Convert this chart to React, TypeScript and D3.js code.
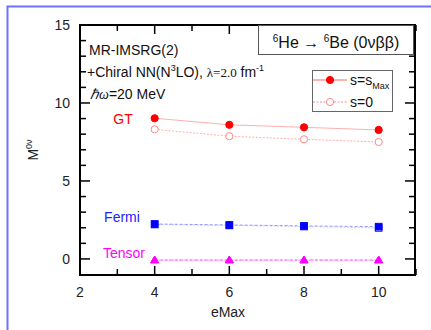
import React from "react";
import * as d3 from "d3";

const eMax = [4, 6, 8, 10];
const gtSMax = [9.02, 8.6, 8.44, 8.27];
const gtS0 = [8.31, 7.87, 7.67, 7.5];
const fermiSMax = [2.24, 2.18, 2.12, 2.07];
const fermiS0 = [2.21, 2.15, 2.08, 1.99];
const tensorSMax = [-0.07, -0.07, -0.07, -0.07];
const tensorS0 = [-0.08, -0.08, -0.08, -0.08];
const xTicks = [2, 4, 6, 8, 10];
const yTicks = [0, 5, 10, 15];

const W = 431, H = 330;
const L = 80, R = 415, T = 25, B = 275;

export default function App() {
  const x = d3.scaleLinear().domain([2, 11]).range([L, R + 1]);
  const y = d3.scaleLinear().domain([-1.03, 15]).range([B, T]);
  const line = d3.line<number>().x((_, i) => x(eMax[i])).y((v) => y(v));
  const font = "Liberation Sans, Arial, sans-serif";
  const minorX = d3.range(2, 12, 1);
  const minorY = d3.range(0, 16, 1);

  const series = [
    { vals: gtSMax, color: "#ff0000", lc: "#ffb0b0", dash: undefined, open: false, shape: "circle" },
    { vals: gtS0, color: "#ff8888", lc: "#ffb0b0", dash: "2,1.5", open: true, shape: "circle" },
    { vals: fermiS0, color: "#0000ff", lc: "#c8c8ff", dash: "2,1.5", open: true, shape: "square" },
    { vals: fermiSMax, color: "#0000ff", lc: "#9999ff", dash: "3,2", open: false, shape: "square" },
    { vals: tensorS0, color: "#ff00ff", lc: "#ffa0ff", dash: "2,1.5", open: true, shape: "tri" },
    { vals: tensorSMax, color: "#ff00ff", lc: "#ff55ff", dash: "3,2", open: false, shape: "tri" },
  ];

  const marker = (shape: string, cx: number, cy: number, color: string, open: boolean, key: string) => {
    const fill = open ? "white" : color;
    if (shape === "circle")
      return <circle key={key} cx={cx} cy={cy} r={3.6} fill={fill} stroke={color} strokeWidth={1} />;
    if (shape === "square")
      return <rect key={key} x={cx - 3.3} y={cy - 3.3} width={6.6} height={6.6} fill={fill} stroke={color} strokeWidth={1} />;
    return (
      <path key={key} d={`M${cx},${cy - 4}L${cx + 4},${cy + 2.7}L${cx - 4},${cy + 2.7}Z`} fill={fill} stroke={color} strokeWidth={1} />
    );
  };

  return (
    <svg width={W} height={H} style={{ position: "absolute", left: 0, top: 0 }} fontFamily={font}>
      <rect x={0} y={0} width={W} height={H} fill="white" />
      <path d={`M7.5,${H}V6.5H${W}`} fill="none" stroke="#7070ff" strokeWidth={2} />

      {series.map((s, si) => (
        <g key={si}>
          <path d={line(s.vals) || ""} fill="none" stroke={s.lc} strokeWidth={1} strokeDasharray={s.dash} />
          {s.vals.map((v, i) => marker(s.shape, x(eMax[i]), y(v), s.color, s.open, `m${si}-${i}`))}
        </g>
      ))}

      <rect x={L} y={T} width={R - L} height={B - T} fill="none" stroke="black" strokeWidth={2} />
      {minorX.map((v) => {
        const major = v % 2 === 0;
        const len = major ? 9 : 6;
        return (
          <g key={"x" + v}>
            <line x1={x(v)} x2={x(v)} y1={B} y2={B - len} stroke="black" strokeWidth={1.5} />
            <line x1={x(v)} x2={x(v)} y1={T} y2={T + len} stroke="black" strokeWidth={1.5} />
          </g>
        );
      })}
      {minorY.map((v) => {
        const major = v % 5 === 0;
        const len = major ? 10 : 6;
        return (
          <g key={"y" + v}>
            <line x1={L} x2={L + len} y1={y(v)} y2={y(v)} stroke="black" strokeWidth={1.5} />
            <line x1={R} x2={R - len} y1={y(v)} y2={y(v)} stroke="black" strokeWidth={1.5} />
          </g>
        );
      })}
      {xTicks.map((v) => (
        <text key={"xl" + v} x={x(v)} y={297} fontSize={14} textAnchor="middle" fill="#222">
          {v}
        </text>
      ))}
      {yTicks.map((v) => (
        <text key={"yl" + v} x={70} y={y(v) + 5} fontSize={14} textAnchor="end" fill="#222">
          {v}
        </text>
      ))}
      <text x={228} y={317} fontSize={14} textAnchor="middle" fill="#222">eMax</text>
      <text transform={`translate(38,150) rotate(-90)`} fontSize={14} textAnchor="middle" fill="#222">
        M<tspan fontSize={9} dy={-6}>0ν</tspan>
      </text>

      <text x={89} y={55} fontSize={14} fill="#111">MR-IMSRG(2)</text>
      <text x={87} y={77} fontSize={14} fill="#111">
        +Chiral NN(N<tspan fontSize={9} dy={-6}>3</tspan>
        <tspan dy={6}>LO), </tspan>
        <tspan fontFamily="Liberation Serif, Times New Roman, serif" fontSize={13}>λ=2.0</tspan>
        <tspan> fm</tspan>
        <tspan fontSize={9} dy={-6}>-1</tspan>
      </text>
      <text x={90} y={99} fontSize={14} fill="#111">
        <tspan fontFamily="Liberation Serif, Times New Roman, serif" fontStyle="italic">ℏω</tspan>=20 MeV
      </text>

      <text x={123} y={124} fontSize={14} fill="#ff0000" textAnchor="middle">GT</text>
      <text x={122} y={222} fontSize={14} fill="#2222ff" textAnchor="middle">Fermi</text>
      <text x={124} y={258} fontSize={14} fill="#ff00ff" textAnchor="middle">Tensor</text>

      <rect x={258.5} y={25.5} width={155} height={29} fill="white" stroke="#555" strokeWidth={1} />
      <text x={336} y={48} fontSize={16} textAnchor="middle" fill="#111">
        <tspan fontSize={10} dy={-6}>6</tspan>
        <tspan dy={6}>He → </tspan>
        <tspan fontSize={10} dy={-6}>6</tspan>
        <tspan dy={6}>Be (0νββ)</tspan>
      </text>

      <rect x={312.5} y={70.5} width={80} height={41} fill="white" stroke="#666" strokeWidth={1} />
      <line x1={313} x2={347} y1={80} y2={80} stroke="#ff6666" strokeWidth={1} />
      {marker("circle", 330, 80, "#ff0000", false, "lg1")}
      <text x={350} y={85} fontSize={14} fill="#111">
        s=s<tspan fontSize={9} dy={4}>Max</tspan>
      </text>
      <line x1={313} x2={347} y1={102} y2={102} stroke="#ff8888" strokeWidth={1} strokeDasharray="2,1.5" />
      {marker("circle", 330, 102, "#ff8888", true, "lg2")}
      <text x={350} y={107} fontSize={14} fill="#111">s=0</text>
    </svg>
  );
}
